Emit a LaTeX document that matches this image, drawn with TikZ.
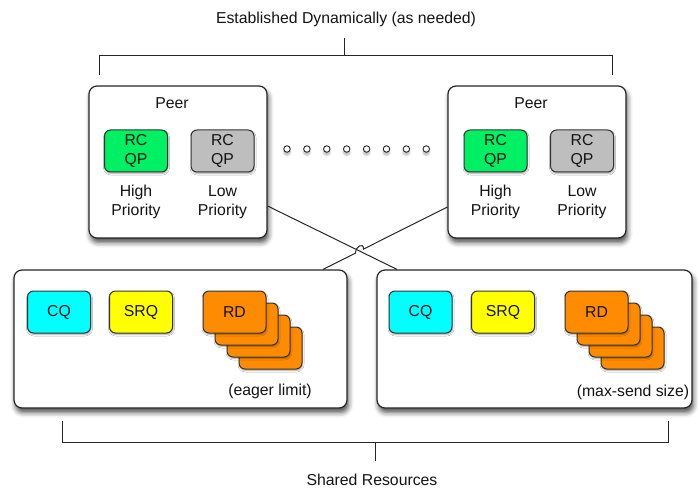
\documentclass[tikz,border=0pt]{standalone}
\usepackage{fontspec}
\setmainfont{Liberation Sans}
\usetikzlibrary{shadows.blur,calc}
\definecolor{qpgreen}{RGB}{0,240,100}
\definecolor{qpgray}{RGB}{190,190,190}
\definecolor{cqcyan}{RGB}{0,255,255}
\definecolor{srqyellow}{RGB}{255,255,0}
\definecolor{rdorange}{RGB}{255,140,0}
\begin{document}
\begin{tikzpicture}[x=1pt,y=-1pt,
  lbl/.style={font=\fontsize{15.8}{18.5}\selectfont, text=black!92, align=center},
  bigbox/.style={draw=black!85, line width=1.2pt, fill=white, rounded corners=8pt, inner sep=0pt,
    blur shadow={shadow xshift=1.5pt, shadow yshift=-4.5pt, shadow blur radius=5pt, shadow opacity=70}},
  qbox/.style={draw=black!80, line width=1pt, rounded corners=6pt, minimum width=63pt, minimum height=42pt, inner sep=0pt, lbl,
    blur shadow={shadow xshift=0.5pt, shadow yshift=-1.5pt, shadow blur radius=1.5pt, shadow opacity=35}},
  conn/.style={draw=black!85, line width=1pt},
  odot/.style={circle, draw=black!85, line width=0.9pt, fill=white, minimum size=6.5pt, inner sep=0pt,
    blur shadow={shadow xshift=0pt, shadow yshift=-3pt, shadow blur radius=2pt, shadow opacity=30}}
]
\useasboundingbox (0,0) rectangle (699,489);

% top label and bracket
\node[lbl] (top) at (346,19) {Established Dynamically (as needed)};
\coordinate (tl) at (99,75);
\coordinate (tr) at (612,75);
\coordinate (tm) at (344,56);
\draw[conn] (tl) -- (tl |- tm) -- (tr |- tm) -- (tr);
\draw[conn] (tm) -- (tm |- 0,38);

% peer boxes
\node[bigbox, minimum width=178pt, minimum height=152pt] (lp) at (178,162) {};
\node[bigbox, minimum width=178pt, minimum height=152pt] (rp) at (537,162) {};

% bottom boxes
\node[bigbox, minimum width=333pt, minimum height=138pt] (bl) at (180.5,339) {};
\node[bigbox, minimum width=315pt, minimum height=138pt] (br) at (534.5,339) {};

% peer content
\node[lbl] (lpl) at (172,103) {Peer};
\node[lbl] (rpl) at (531,103) {Peer};
\node[qbox, fill=qpgreen] (lh) at (136,151) {RC\\QP};
\node[qbox, fill=qpgray] (ll) at (222.5,151) {RC\\QP};
\node[qbox, fill=qpgreen] (rh) at (495.5,151) {RC\\QP};
\node[qbox, fill=qpgray] (rl) at (582,151) {RC\\QP};
\node[lbl] (lht) at (136,202) {High\\Priority};
\node[lbl] (llt) at (222.5,202) {Low\\Priority};
\node[lbl] (rht) at (495.5,202) {High\\Priority};
\node[lbl] (rlt) at (582,202) {Low\\Priority};

% dots
\foreach \i in {0,...,7} {
  \node[odot] (d\i) at (287+\i*19.9,149) {};
}

% bottom-left content
\node[qbox, fill=cqcyan] (lcq) at (59,312) {CQ};
\node[qbox, fill=srqyellow] (lsrq) at (141,312) {SRQ};
\node[qbox, fill=rdorange] (lrd3) at (270.5,348) {};
\node[qbox, fill=rdorange] (lrd2) at (258.5,336) {};
\node[qbox, fill=rdorange] (lrd1) at (246.5,324) {};
\node[qbox, fill=rdorange] (lrd) at (234.5,312) {RD};
\node[lbl] (lel) at (270,391) {(eager limit)};

% bottom-right content
\node[qbox, fill=cqcyan] (rcq) at (420.5,312) {CQ};
\node[qbox, fill=srqyellow] (rsrq) at (503,312) {SRQ};
\node[qbox, fill=rdorange] (rrd3) at (632.5,348) {};
\node[qbox, fill=rdorange] (rrd2) at (620.5,336) {};
\node[qbox, fill=rdorange] (rrd1) at (608.5,324) {};
\node[qbox, fill=rdorange] (rrd) at (596.5,312) {RD};
\node[lbl] (rms) at (633,392) {(max-send size)};

% vertical connectors
\draw[conn] ($(lp.south)+(1,0)$) -- ($(lp.south)+(1,0)$ |- bl.north);
\draw[conn] ($(rp.south)+(3,0)$) -- ($(rp.south)+(3,0)$ |- br.north);

% crossing connectors
\coordinate (yA) at (0,206);
\coordinate (yB) at (0,207);
\coordinate (xA) at (397,0);
\coordinate (xB) at (323,0);
\coordinate (A1) at (lp.east |- yA);
\coordinate (A2) at (br.north -| xA);
\coordinate (B1) at (rp.west |- yB);
\coordinate (B2) at (bl.north -| xB);
\coordinate (X) at (intersection of A1--A2 and B1--B2);
\draw[conn] (A1) -- (A2);
\draw[conn] (B1) -- ($(X)!4.5pt!(B1)$) .. controls +(0,-7) and +(0,-7) .. ($(X)!4.5pt!(B2)$) -- (B2);

% bottom bracket
\coordinate (bl1) at (62,421);
\coordinate (br1) at (668,421);
\coordinate (bm) at (375,442);
\draw[conn] (bl1) -- (bl1 |- bm) -- (br1 |- bm) -- (br1);
\draw[conn] (bm) -- (bm |- 0,461);
\node[lbl] (shr) at (372,480) {Shared Resources};
\end{tikzpicture}
\end{document}
